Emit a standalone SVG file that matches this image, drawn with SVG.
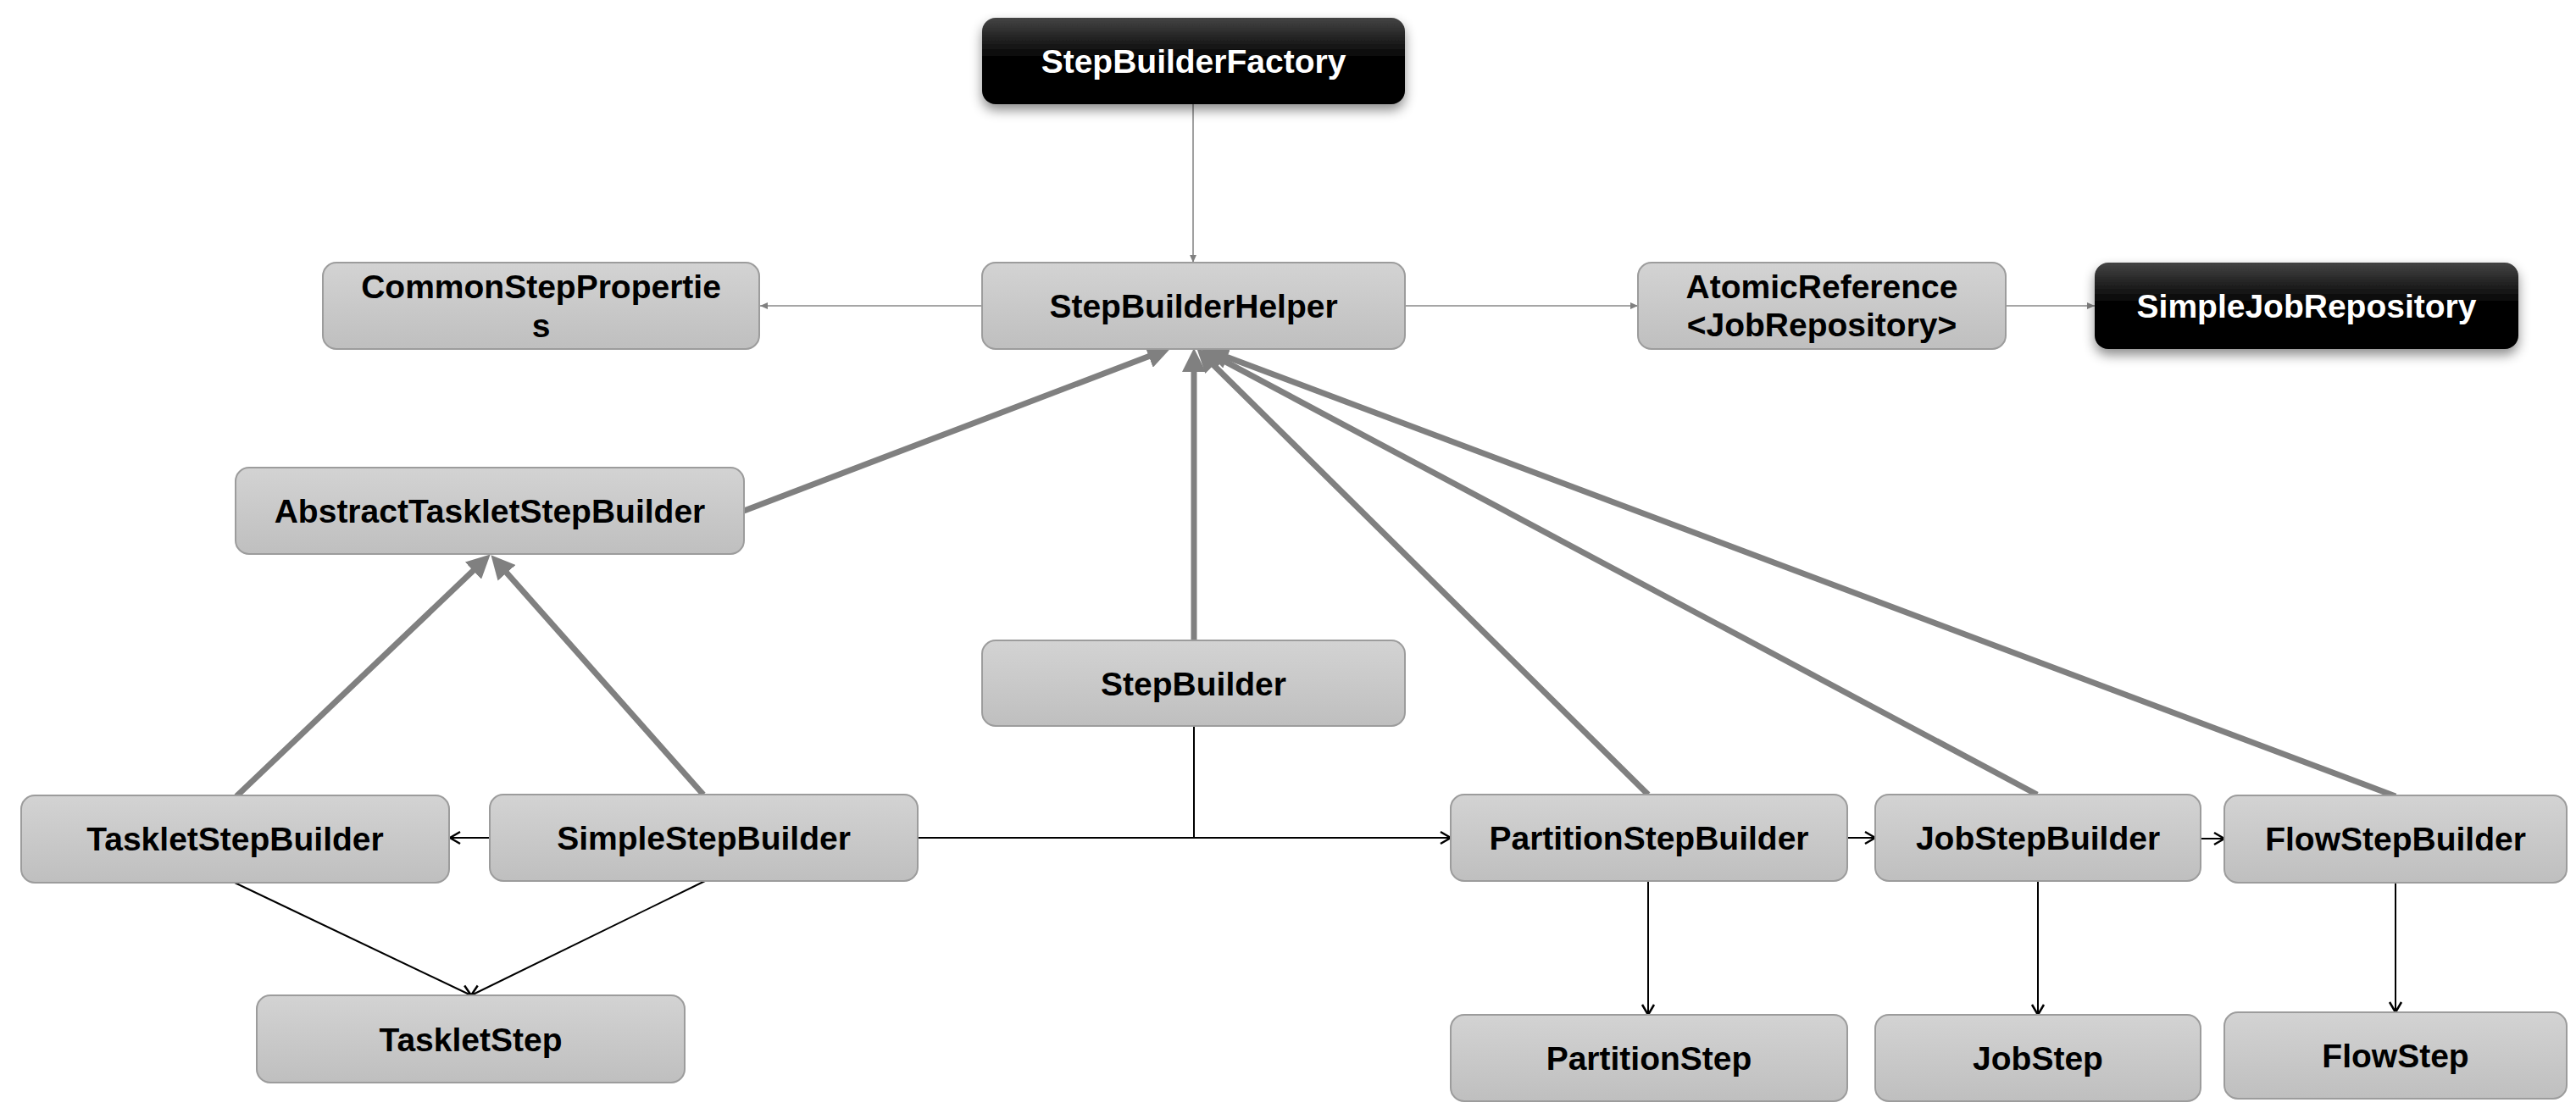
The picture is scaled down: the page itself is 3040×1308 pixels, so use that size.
<svg xmlns="http://www.w3.org/2000/svg" width="3040" height="1308" viewBox="0 0 3040 1308">
<defs>
<linearGradient id="gGray" x1="0" y1="0" x2="0" y2="1">
<stop offset="0" stop-color="#d3d3d3"/>
<stop offset="1" stop-color="#bfbfbf"/>
</linearGradient>
<linearGradient id="gBlack" x1="0" y1="0" x2="0" y2="1">
<stop offset="0" stop-color="#444444"/>
<stop offset="0.45" stop-color="#050505"/>
<stop offset="1" stop-color="#000000"/>
</linearGradient>
<filter id="shadow" x="-10%" y="-20%" width="120%" height="160%">
<feDropShadow dx="0" dy="7" stdDeviation="7" flood-color="#000" flood-opacity="0.45"/>
</filter>
<marker id="bigTri" markerUnits="userSpaceOnUse" markerWidth="28" markerHeight="28" viewBox="0 0 26 26" refX="14" refY="13" orient="auto">
<path d="M0,0 L26,13 L0,26 z" fill="#808080"/>
</marker>
<marker id="smallTri" markerUnits="userSpaceOnUse" markerWidth="9" markerHeight="9" viewBox="0 0 8 8" refX="8" refY="4" orient="auto">
<path d="M0,0.5 L8,4 L0,7.5 z" fill="#808080"/>
</marker>
<marker id="vee" markerUnits="userSpaceOnUse" markerWidth="16" markerHeight="18" viewBox="0 0 16 18" refX="14" refY="9" orient="auto">
<path d="M2,2 L14,9 L2,16" fill="none" stroke="#000" stroke-width="2.5"/>
</marker>
<style>
.node rect.g{fill:url(#gGray);stroke:#9c9c9c;stroke-width:2}
.node rect.b{fill:url(#gBlack);filter:url(#shadow)}
.node text{font-family:"Liberation Sans",Arial,Helvetica,sans-serif;font-weight:bold;font-size:39px;text-anchor:middle}
.node text.w{fill:#ffffff}
.node text.k{fill:#000000}
.thick{stroke:#808080;stroke-width:7;fill:none;marker-end:url(#bigTri)}
.thin{stroke:#888888;stroke-width:1.6;fill:none;marker-end:url(#smallTri)}
.blk{stroke:#000;stroke-width:2;fill:none}
.blka{stroke:#000;stroke-width:2;fill:none;marker-end:url(#vee)}
</style>
</defs>
<rect width="3040" height="1308" fill="#ffffff"/>

<g id="connectors">
<line class="thin" x1="1408" y1="123" x2="1408" y2="310"/>
<line class="thin" x1="1159" y1="361" x2="897" y2="361"/>
<line class="thin" x1="1659" y1="361" x2="1933" y2="361"/>
<line class="thin" x1="2368" y1="361" x2="2472" y2="361"/>

<line class="thick" x1="878" y1="603" x2="1369.8" y2="415.3"/>
<line class="thick" x1="1409" y1="756" x2="1409" y2="424"/>
<line class="thick" x1="1945" y1="938" x2="1421.5" y2="420.4"/>
<line class="thick" x1="2404" y1="938" x2="1428.6" y2="417.6"/>
<line class="thick" x1="2827" y1="940" x2="1434.2" y2="416.2"/>
<line class="thick" x1="279" y1="940" x2="569.3" y2="663.3"/>
<line class="thick" x1="830" y1="938" x2="588" y2="665"/>

<line class="blka" x1="578" y1="989" x2="531" y2="989"/>
<line class="blka" x1="1083" y1="989" x2="1712" y2="989"/>
<line class="blk" x1="1409" y1="857" x2="1409" y2="989"/>
<line class="blka" x1="2180" y1="989" x2="2213" y2="989"/>
<line class="blka" x1="2597" y1="990" x2="2625" y2="990"/>
<line class="blka" x1="277" y1="1042" x2="556" y2="1175"/>
<line class="blka" x1="832" y1="1040" x2="556" y2="1175"/>
<line class="blka" x1="1945" y1="1040" x2="1945" y2="1198"/>
<line class="blka" x1="2405" y1="1040" x2="2405" y2="1198"/>
<line class="blka" x1="2827" y1="1042" x2="2827" y2="1195"/>
</g>

<g id="StepBuilderFactory" class="node">
<rect class="b" x="1159" y="21" width="499" height="102" rx="16"/>
<text class="w" x="1408.5" y="86">StepBuilderFactory</text>
</g>
<g id="StepBuilderHelper" class="node">
<rect class="g" x="1159" y="310" width="499" height="102" rx="16"/>
<text class="k" x="1408.5" y="375">StepBuilderHelper</text>
</g>
<g id="CommonStepProperties" class="node">
<rect class="g" x="381" y="310" width="515" height="102" rx="16"/>
<text class="k" x="638.5" y="352">CommonStepPropertie</text>
<text class="k" x="638.5" y="398">s</text>
</g>
<g id="AtomicReference" class="node">
<rect class="g" x="1933" y="310" width="434" height="102" rx="16"/>
<text class="k" x="2150" y="352">AtomicReference</text>
<text class="k" x="2150" y="397">&lt;JobRepository&gt;</text>
</g>
<g id="SimpleJobRepository" class="node">
<rect class="b" x="2472" y="310" width="500" height="102" rx="16"/>
<text class="w" x="2722" y="375">SimpleJobRepository</text>
</g>
<g id="AbstractTaskletStepBuilder" class="node">
<rect class="g" x="278" y="552" width="600" height="102" rx="16"/>
<text class="k" x="578" y="617">AbstractTaskletStepBuilder</text>
</g>
<g id="StepBuilder" class="node">
<rect class="g" x="1159" y="756" width="499" height="101" rx="16"/>
<text class="k" x="1408.5" y="821">StepBuilder</text>
</g>
<g id="TaskletStepBuilder" class="node">
<rect class="g" x="25" y="939" width="505" height="103" rx="16"/>
<text class="k" x="277.5" y="1004">TaskletStepBuilder</text>
</g>
<g id="SimpleStepBuilder" class="node">
<rect class="g" x="578" y="938" width="505" height="102" rx="16"/>
<text class="k" x="830.5" y="1003">SimpleStepBuilder</text>
</g>
<g id="TaskletStep" class="node">
<rect class="g" x="303" y="1175" width="505" height="103" rx="16"/>
<text class="k" x="555.5" y="1241">TaskletStep</text>
</g>
<g id="PartitionStepBuilder" class="node">
<rect class="g" x="1712" y="938" width="468" height="102" rx="16"/>
<text class="k" x="1946" y="1003">PartitionStepBuilder</text>
</g>
<g id="JobStepBuilder" class="node">
<rect class="g" x="2213" y="938" width="384" height="102" rx="16"/>
<text class="k" x="2405" y="1003">JobStepBuilder</text>
</g>
<g id="FlowStepBuilder" class="node">
<rect class="g" x="2625" y="939" width="404" height="103" rx="16"/>
<text class="k" x="2827" y="1004">FlowStepBuilder</text>
</g>
<g id="PartitionStep" class="node">
<rect class="g" x="1712" y="1198" width="468" height="102" rx="16"/>
<text class="k" x="1946" y="1263">PartitionStep</text>
</g>
<g id="JobStep" class="node">
<rect class="g" x="2213" y="1198" width="384" height="102" rx="16"/>
<text class="k" x="2405" y="1263">JobStep</text>
</g>
<g id="FlowStep" class="node">
<rect class="g" x="2625" y="1195" width="404" height="102" rx="16"/>
<text class="k" x="2827" y="1260">FlowStep</text>
</g>
</svg>
